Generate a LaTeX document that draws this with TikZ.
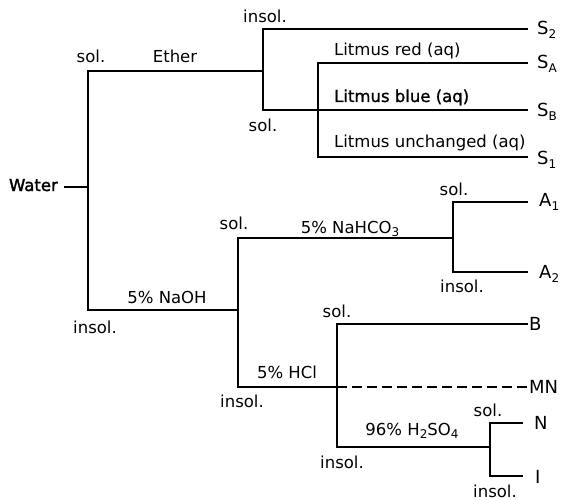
\documentclass[tikz,border=0pt]{standalone}
\usepackage{fontspec}
\setmainfont{DejaVu Sans}
\newfontfamily\heavyfont[FakeBold=2]{DejaVu Sans}
\newfontfamily\semifont[FakeBold=1.2]{DejaVu Sans}
\newcommand{\sbs}[1]{\raisebox{-0.35ex}{\fontsize{12}{14}\selectfont #1}}
\begin{document}
\begin{tikzpicture}[x=1pt,y=-1pt,
  tree/.style={line width=1.7pt, line cap=butt, line join=miter},
  lab/.style={inner sep=0pt, anchor=base, font=\fontsize{16.5}{19}\selectfont},
  endlab/.style={inner sep=0pt, anchor=west, font=\fontsize{18}{21}\selectfont},
  dashline/.style={tree, dash pattern=on 10pt off 5pt}]
\useasboundingbox[fill=white] (0,0) rectangle (565,500);
% junction and end coordinates
\coordinate (w) at (64,187);
\coordinate (j0) at (88,187);
\coordinate (j0t) at (88,71);
\coordinate (j0b) at (88,310);
\coordinate (j1) at (263,71);
\coordinate (j1t) at (263,29);
\coordinate (j1b) at (263,110);
\coordinate (j2) at (318,110);
\coordinate (j2t) at (318,63);
\coordinate (j2b) at (318,157);
\coordinate (eS2) at (528,29);
\coordinate (eSA) at (528,63);
\coordinate (eSB) at (528,110);
\coordinate (eS1) at (528,157);
\coordinate (j3) at (238,310);
\coordinate (j3t) at (238,238);
\coordinate (j3b) at (238,387);
\coordinate (j4) at (453,238);
\coordinate (j4t) at (453,202);
\coordinate (j4b) at (453,272);
\coordinate (eA1) at (528,202);
\coordinate (eA2) at (528,272);
\coordinate (j5) at (337,387);
\coordinate (j5t) at (337,324);
\coordinate (j5b) at (337,447);
\coordinate (eB) at (528,324);
\coordinate (eMN) at (528,387);
\coordinate (j6) at (490,447);
\coordinate (j6t) at (490,423);
\coordinate (j6b) at (490,476);
\coordinate (eN) at (523,423);
\coordinate (eI) at (523,476);
% connectors
\draw[tree] (w) -- (j0);
\draw[tree] (j1) -- (j0t) -- (j0b) -- (j3);
\draw[tree] (eS2) -- (j1t) -- (j1b) -- (eSB);
\draw[tree] (eSA) -- (j2t) -- (j2b) -- (eS1);
\draw[tree] (j4) -- (j3t) -- (j3b) -- (j5);
\draw[tree] (eA1) -- (j4t) -- (j4b) -- (eA2);
\draw[tree] (eB) -- (j5t) -- (j5b) -- (j6);
\draw[dashline] (j5) -- (eMN);
\draw[tree] (eN) -- (j6t) -- (j6b) -- (eI);
% end labels
\node[endlab] (S2) at (537,30) {S\sbs{2}};
\node[endlab] (SA) at (537,64) {S\sbs{A}};
\node[endlab] (SB) at (537,112) {S\sbs{B}};
\node[endlab] (S1) at (537,160) {S\sbs{1}};
\node[endlab] (A1) at (539,202) {A\sbs{1}};
\node[endlab] (A2) at (539,274) {A\sbs{2}};
\node[endlab] (B) at (529,324) {B};
\node[endlab] (MN) at (529,387) {MN};
\node[endlab] (N) at (534,423) {N};
\node[endlab] (I) at (535,477) {I};
% branch labels
\node[lab, anchor=base east] (water) at (58,191) {\heavyfont Water};
\node[lab] (l1) at (91,63) {sol.};
\node[lab] (l2) at (175,63) {Ether};
\node[lab] (l3) at (265,23) {insol.};
\node[lab] (l4) at (263,132) {sol.};
\node[lab, anchor=base west] (l5) at (334,56) {Litmus red (aq)};
\node[lab, anchor=base west] (l6) at (334,102) {\semifont Litmus blue (aq)};
\node[lab, anchor=base west] (l7) at (334,148) {Litmus unchanged (aq)};
\node[lab] (l8) at (234,229) {sol.};
\node[lab] (l9) at (167,303) {5\% NaOH};
\node[lab] (l10) at (95,333) {insol.};
\node[lab] (l11) at (350,233) {5\% NaHCO\sbs{3}};
\node[lab] (l12) at (454,195) {sol.};
\node[lab] (l13) at (462,292) {insol.};
\node[lab] (l14) at (337,317) {sol.};
\node[lab] (l15) at (287,378) {5\% HCl};
\node[lab] (l16) at (242,407) {insol.};
\node[lab] (l17) at (488,416) {sol.};
\node[lab] (l18) at (412,435) {96\% H\sbs{2}SO\sbs{4}};
\node[lab] (l19) at (342,468) {insol.};
\node[lab] (l20) at (495,497) {insol.};
\end{tikzpicture}
\end{document}
